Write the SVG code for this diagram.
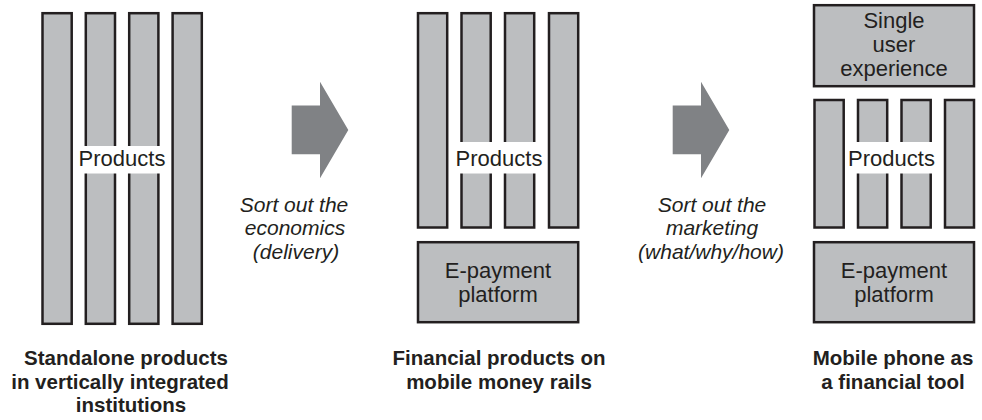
<svg xmlns="http://www.w3.org/2000/svg" width="982" height="420" viewBox="0 0 982 420">
<style>
.bar{fill:#bcbec0;stroke:#231f20;stroke-width:2.5}
.gap{fill:#ffffff}
.lbl{font-family:"Liberation Sans",Arial,sans-serif;font-size:22px;fill:#231f20;text-anchor:middle}
.it{font-family:"Liberation Sans",Arial,sans-serif;font-size:21px;font-style:italic;fill:#231f20;text-anchor:middle}
.cap{font-family:"Liberation Sans",Arial,sans-serif;font-size:20.5px;font-weight:bold;fill:#231f20;text-anchor:middle}
.arrow{fill:#808285}
</style>
<rect width="982" height="420" fill="#ffffff"/>

<g id="panel1-products">
  <rect class="bar" x="42.5" y="13.2" width="29.2" height="310.6"/>
  <rect class="bar" x="85.8" y="13.2" width="29.2" height="310.6"/>
  <rect class="bar" x="129.2" y="13.2" width="29.2" height="310.6"/>
  <rect class="bar" x="172.6" y="13.2" width="29.2" height="310.6"/>
  <rect class="gap" x="74" y="146" width="97" height="27.5"/>
  <text class="lbl" x="122" y="166">Products</text>
</g>

<g id="panel2-products">
  <rect class="bar" x="418" y="13.2" width="29.2" height="214.3"/>
  <rect class="bar" x="461.5" y="13.2" width="29.2" height="214.3"/>
  <rect class="bar" x="505" y="13.2" width="29.2" height="214.3"/>
  <rect class="bar" x="549" y="13.2" width="29.2" height="214.3"/>
  <rect class="gap" x="453" y="142" width="91" height="31.5"/>
  <text class="lbl" x="499" y="166">Products</text>
</g>

<g id="panel2-platform">
  <rect class="bar" x="418" y="242.2" width="160.2" height="80"/>
  <text class="lbl" x="498" y="277.7">E-payment</text>
  <text class="lbl" x="498" y="301.7">platform</text>
</g>

<g id="panel3-ux">
  <rect class="bar" x="814" y="5.2" width="160" height="81"/>
  <text class="lbl" x="894" y="28">Single</text>
  <text class="lbl" x="894" y="52">user</text>
  <text class="lbl" x="894" y="75.5">experience</text>
</g>

<g id="panel3-products">
  <rect class="bar" x="814.5" y="100" width="29.2" height="127.5"/>
  <rect class="bar" x="858" y="100" width="29.2" height="127.5"/>
  <rect class="bar" x="901.5" y="100" width="29.2" height="127.5"/>
  <rect class="bar" x="945" y="100" width="29" height="127.5"/>
  <rect class="gap" x="847" y="142" width="89" height="31.5"/>
  <text class="lbl" x="891.5" y="166">Products</text>
</g>

<g id="panel3-platform">
  <rect class="bar" x="814" y="242.2" width="160" height="80"/>
  <text class="lbl" x="894" y="277.7">E-payment</text>
  <text class="lbl" x="894" y="301.7">platform</text>
</g>

<g id="connectors">
  <polygon class="arrow" points="291.7,105.5 320,105.5 320,81.7 348.3,130 320,178.3 320,154.3 291.7,154.3"/>
  <polygon class="arrow" points="672.7,105.5 701,105.5 701,81.7 729.3,130 701,178.3 701,154.3 672.7,154.3"/>
</g>

<g id="label-economics">
  <text class="it" x="294" y="211.5">Sort out the</text>
  <text class="it" x="295" y="235">economics</text>
  <text class="it" x="296" y="258.5">(delivery)</text>
</g>

<g id="label-marketing">
  <text class="it" x="712" y="211.5">Sort out the</text>
  <text class="it" x="712" y="235">marketing</text>
  <text class="it" x="711" y="258.5">(what/why/how)</text>
</g>

<g id="caption1">
  <text class="cap" x="126" y="365">Standalone products</text>
  <text class="cap" x="120" y="389">in vertically integrated</text>
  <text class="cap" x="131" y="412">institutions</text>
</g>

<g id="caption2">
  <text class="cap" x="499" y="365">Financial products on</text>
  <text class="cap" x="499" y="389">mobile money rails</text>
</g>

<g id="caption3">
  <text class="cap" x="893" y="365">Mobile phone as</text>
  <text class="cap" x="893" y="389">a financial tool</text>
</g>
</svg>
